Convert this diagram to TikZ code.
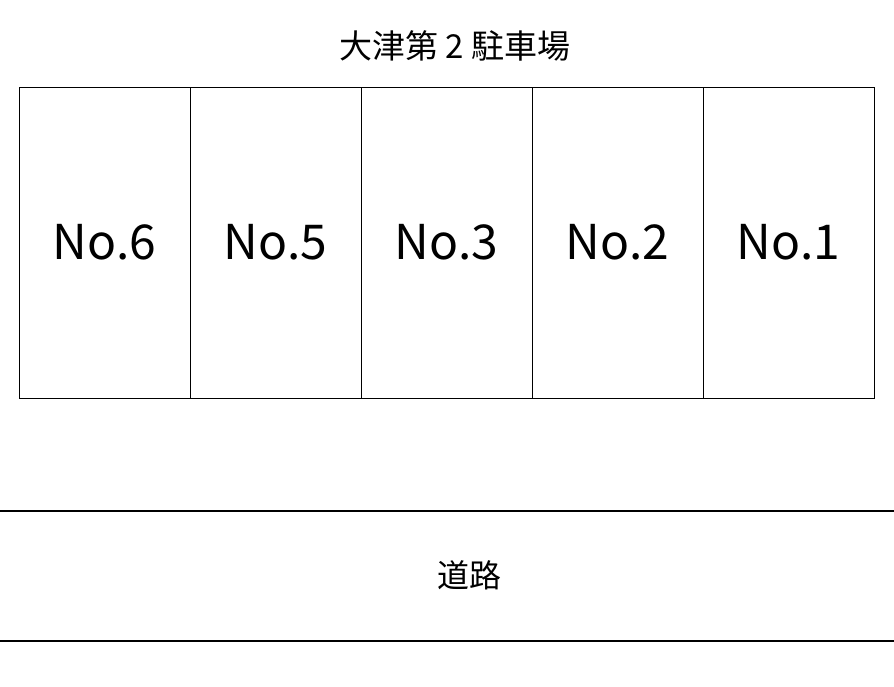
\documentclass[tikz,border=0pt]{standalone}
\usepackage{fontspec}
\setmainfont{Noto Sans CJK JP}
\begin{document}
\begin{tikzpicture}[x=1pt,y=-1pt,
  stall/.style={draw=black,line width=1pt,minimum width=171pt,minimum height=311pt,inner sep=0pt,font=\fontsize{48}{54}\selectfont},
  lbl/.style={inner sep=0pt,font=\fontsize{33}{38}\selectfont},
  road/.style={draw=black,line width=1.3pt}]
\useasboundingbox (0,0) rectangle (894,686);
\node[lbl] (title) at (455,46) {大津第 2 駐車場};
\node[stall] (s6) at (104.5,242.5) {No.6};
\node[stall] (s5) at (275.5,242.5) {No.5};
\node[stall] (s3) at (446.5,242.5) {No.3};
\node[stall] (s2) at (617.5,242.5) {No.2};
\node[stall] (s1) at (788.5,242.5) {No.1};
\coordinate (r1a) at (0,511);
\coordinate (r1b) at (894,511);
\coordinate (r2a) at (0,641);
\coordinate (r2b) at (894,641);
\draw[road] (r1a) -- (r1b);
\draw[road] (r2a) -- (r2b);
\node[lbl,font=\fontsize{32}{36}\selectfont] (road) at (469,575) {道路};
\end{tikzpicture}
\end{document}
